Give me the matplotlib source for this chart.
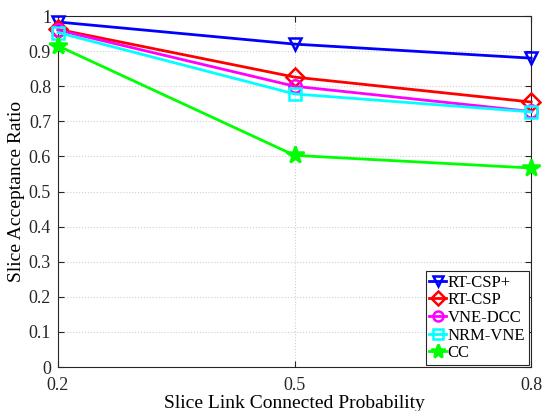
import numpy as np
from matplotlib import pyplot as plt

plt.rcParams['font.family'] = ['Liberation Serif', 'DejaVu Serif']
plt.rcParams['mathtext.fontset'] = 'stix'

# Link connected probability on the x axis
probability = [0.2, 0.5, 0.8]

# Acceptance ratio of each algorithm
rt_csp_plus = [0.983, 0.920, 0.880]
rt_csp = [0.962, 0.826, 0.755]
vne_dcc = [0.960, 0.800, 0.728]
nrm_vne = [0.953, 0.778, 0.727]
cc = [0.915, 0.603, 0.567]

series = [
    ("RT-CSP+", rt_csp_plus, "#0000ff", "v"),
    ("RT-CSP", rt_csp, "#ff0000", "D"),
    ("VNE-DCC", vne_dcc, "#ff00ff", "o"),
    ("NRM-VNE", nrm_vne, "#00ffff", "s"),
    ("CC", cc, "#00ff00", "*"),
]

fig = plt.figure(figsize=(5.42, 4.11), dpi=100)
ax = fig.add_axes([0.107, 0.107, 0.873, 0.854])

for name, values, colour, marker in series:
    size = 13 if marker == "*" else 9
    ax.plot(probability, values, color=colour, linewidth=2, marker=marker,
            markersize=size, markerfacecolor=colour if marker == "*" else "none",
            markeredgewidth=1.8, label=name, clip_on=False, zorder=3)

ax.set_xlim(0.2, 0.8)
ax.set_ylim(0, 1)
ax.set_xticks(probability)
ax.set_xticklabels(["0.2", "0.5", "0.8"])
ax.set_yticks(np.arange(0, 1.01, 0.1))
ax.set_yticklabels(["0", "0.1", "0.2", "0.3", "0.4", "0.5", "0.6", "0.7", "0.8", "0.9", "1"])
ax.tick_params(direction="in", top=True, right=True, labelsize=13, colors="#262626", length=4)
ax.tick_params(axis="x", pad=7)
ax.tick_params(axis="y", pad=5)
for spine in ax.spines.values():
    spine.set_color("#262626")
    spine.set_linewidth(0.8)
ax.grid(True, linestyle=":", color="#d0d0d0", linewidth=0.8)

ax.set_xlabel("Slice Link Connected Probability", fontsize=14, labelpad=1)
ax.set_ylabel("Slice Acceptance Ratio", fontsize=14, labelpad=3)

leg = ax.legend(loc="lower right", fontsize=12, fancybox=False, framealpha=1,
                edgecolor="#262626", handlelength=1.0, handletextpad=0.1,
                borderpad=0.2, labelspacing=0.1, borderaxespad=0.15,
                markerscale=0.8)
leg.get_frame().set_linewidth(0.8)

plt.savefig("out.png", dpi=100)
